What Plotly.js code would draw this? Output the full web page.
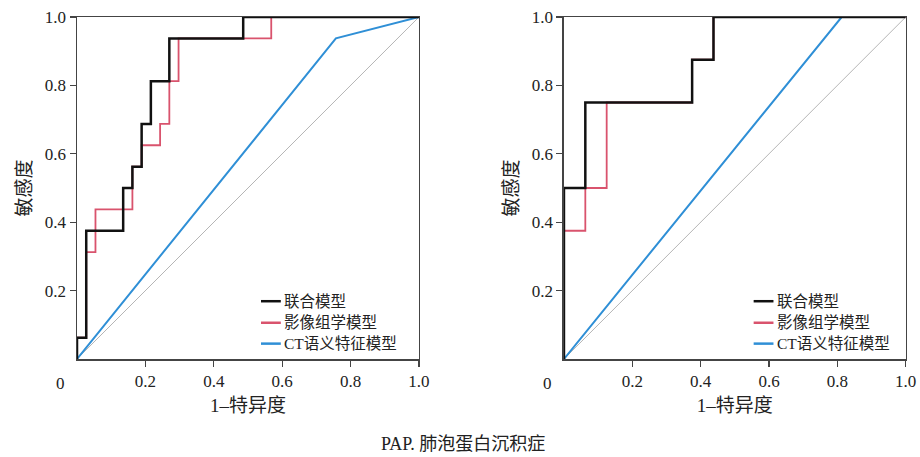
<!DOCTYPE html>
<html><head><meta charset="utf-8">
<script src="https://cdn.plot.ly/plotly-3.0.1.min.js"></script>
<style>html,body{margin:0;padding:0;background:#fff;}#chart{width:920px;height:457px;}</style>
</head><body><div id="chart"></div>
<script>
// Left panel ROC points (1-特异度, 敏感度)
const leftCombinedX = [0, 0, 0.027, 0.027, 0.135, 0.135, 0.162, 0.162, 0.189, 0.189, 0.216, 0.216, 0.270, 0.270, 0.486, 0.486, 1];
const leftCombinedY = [0, 0.0625, 0.0625, 0.375, 0.375, 0.5, 0.5, 0.5625, 0.5625, 0.6875, 0.6875, 0.8125, 0.8125, 0.9375, 0.9375, 1, 1];
const leftRadiomicsX = [0, 0, 0.027, 0.027, 0.054, 0.054, 0.162, 0.162, 0.189, 0.189, 0.243, 0.243, 0.270, 0.270, 0.297, 0.297, 0.568, 0.568, 1];
const leftRadiomicsY = [0, 0.0625, 0.0625, 0.3125, 0.3125, 0.4375, 0.4375, 0.5625, 0.5625, 0.625, 0.625, 0.6875, 0.6875, 0.8125, 0.8125, 0.9375, 0.9375, 1, 1];
const leftCTX = [0, 0.757, 1];
const leftCTY = [0, 0.9375, 1];
// Right panel ROC points
const rightCombinedX = [0, 0, 0.0625, 0.0625, 0.375, 0.375, 0.4375, 0.4375, 1];
const rightCombinedY = [0, 0.5, 0.5, 0.75, 0.75, 0.875, 0.875, 1, 1];
const rightRadiomicsX = [0, 0, 0.0625, 0.0625, 0.125, 0.125, 0.375, 0.375, 0.4375, 0.4375, 1];
const rightRadiomicsY = [0, 0.375, 0.375, 0.5, 0.5, 0.75, 0.75, 0.875, 0.875, 1, 1];
const rightCTX = [0, 0.8125, 1];
const rightCTY = [0, 1, 1];
const refX = [0, 1];
const refY = [0, 1];
const seriesNames = ['联合模型', '影像组学模型', 'CT语义特征模型'];
const tickVals = [0.2, 0.4, 0.6, 0.8, 1.0];
const tickLabels = ['0.2', '0.4', '0.6', '0.8', '1.0'];
const xTitle = '1–特异度';
const yTitle = '敏感度';
const caption = 'PAP. 肺泡蛋白沉积症';

const colors = ['#111111', '#d9536d', '#2f8fd6'];
const widths = [2.5, 1.8, 2];
const font = 'Liberation Serif, Noto Sans CJK SC, serif';

function panel(xa, ya, sets) {
  const tr = [{x: refX, y: refY, xaxis: xa, yaxis: ya, mode: 'lines', line: {color: '#b5b5b5', width: 1}, showlegend: false, hoverinfo: 'skip'}];
  [2, 1, 0].forEach(i => {
    tr.push({x: sets[i][0], y: sets[i][1], xaxis: xa, yaxis: ya, mode: 'lines', name: seriesNames[i],
      line: {color: colors[i], width: widths[i], shape: 'linear'}, showlegend: false});
  });
  return tr;
}

const data = [].concat(
  panel('x', 'y', [[leftCombinedX, leftCombinedY], [leftRadiomicsX, leftRadiomicsY], [leftCTX, leftCTY]]),
  panel('x2', 'y2', [[rightCombinedX, rightCombinedY], [rightRadiomicsX, rightRadiomicsY], [rightCTX, rightCTY]])
);

function axis(domain, anchor, title, isY) {
  return {
    domain: domain, anchor: anchor, range: [0, 1], autorange: false,
    tickvals: tickVals, ticktext: tickLabels, ticks: 'outside', ticklen: 6, tickwidth: 1.2, tickcolor: '#444',
    showline: true, linecolor: '#444', linewidth: 1.5, mirror: true, showgrid: false, zeroline: false,
    tickfont: {family: font, size: 17, color: '#222'},
    title: {text: title, font: {family: font, size: 19, color: '#222'}, standoff: isY ? 8 : 9}
  };
}

const yDom = [0.2144, 0.9628];
const layout = {
  width: 920, height: 457, margin: {l: 0, r: 0, t: 0, b: 0},
  paper_bgcolor: '#ffffff', plot_bgcolor: '#ffffff', showlegend: false,
  xaxis: axis([0.0837, 0.4554], 'y', xTitle, false),
  yaxis: axis(yDom, 'x', yTitle, true),
  xaxis2: axis([0.6130, 0.9845], 'y2', xTitle, false),
  yaxis2: axis(yDom, 'x2', yTitle, true),
  annotations: [],
  shapes: []
};

[0.0837, 0.6130].forEach(d => {
  layout.annotations.push({xref: 'paper', yref: 'paper', x: d - 0.018, y: 0.2144 - 0.028, text: '0', showarrow: false,
    xanchor: 'center', yanchor: 'top', font: {family: font, size: 17, color: '#222'}});
});
layout.annotations.push({xref: 'paper', yref: 'paper', x: 0.503, y: 0.028, text: caption, showarrow: false,
  xanchor: 'center', yanchor: 'middle', font: {family: font, size: 18, color: '#222'}});

const legY = [0.169, 0.106, 0.045];
[['x', 'y'], ['x2', 'y2']].forEach((ax, p) => {
  const lx0 = p === 0 ? 0.538 : 0.555;
  for (let i = 0; i < 3; i++) {
    layout.shapes.push({type: 'line', xref: ax[0] + ' domain', yref: ax[1] + ' domain',
      x0: lx0, x1: lx0 + 0.058, y0: legY[i], y1: legY[i], line: {color: colors[i], width: 2.5}});
    layout.annotations.push({xref: ax[0] + ' domain', yref: ax[1] + ' domain', x: lx0 + 0.062, y: legY[i],
      text: seriesNames[i], showarrow: false, xanchor: 'left', yanchor: 'middle',
      font: {family: font, size: 15.5, color: '#222'}});
  }
});

Plotly.newPlot('chart', data, layout, {displayModeBar: false, staticPlot: true});
</script></body></html>
